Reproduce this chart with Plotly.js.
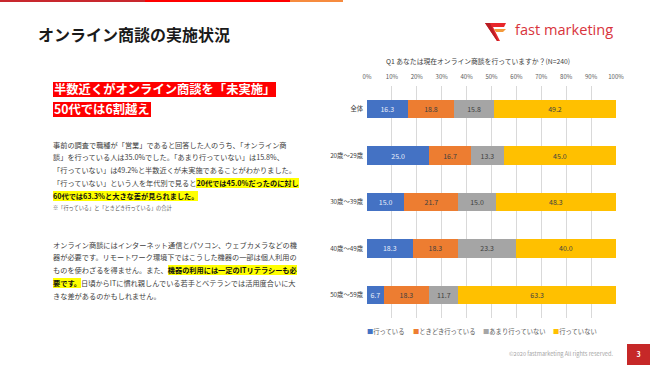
<!DOCTYPE html>
<html>
<head>
<meta charset="utf-8">
<script src="https://cdn.plot.ly/plotly-3.0.1.min.js"></script>
<style>
  html, body { margin:0; padding:0; background:#fff; }
  #page { position:relative; width:650px; height:365px; overflow:hidden; font-family:"Noto Sans CJK JP","Noto Sans",sans-serif; }
  #chart { position:absolute; left:0; top:0; width:650px; height:365px; }
  .abs { position:absolute; white-space:nowrap; }
  .strip { position:absolute; top:0; height:2px; }
  .hl { background:#ffff00; font-weight:bold; color:#111; }
  .para { font-size:7.2px; line-height:12.8px; color:#404040; }
  .head { background:#ff0000; color:#fff; font-weight:bold; font-size:12.3px; line-height:15px; padding:0 1px; }
</style>
</head>
<body>
<div id="page">
  <div id="chart"></div>
  <div class="strip" style="left:0;width:145px;background:#c8282e"></div>
  <div class="strip" style="left:145px;width:145px;background:#ff0000"></div>
  <div class="strip" style="left:290px;width:53px;background:#f68b3f"></div>

  <div class="abs" style="left:38px;top:24px;font-size:16px;line-height:20px;font-weight:bold;color:#1a1a1a">オンライン商談の実施状況</div>

  <svg class="abs" style="left:0;top:0" width="650" height="60">
    <polygon points="485,23 506,23 504,27 493,27 500,41 497,41" fill="#e8262b"/>
    <polygon points="485,23 490,23 498,41 497,41" fill="#b81e24"/>
    <polygon points="494,29 506,29 503,32 496,32" fill="#f39a3c"/>
  </svg>
  <div class="abs" style="left:515px;top:20px;font-family:'Open Sans',sans-serif;font-size:14.6px;line-height:19px;color:#d8343c">fast marketing</div>

  <div class="abs head" style="left:53px;top:82px">半数近くがオンライン商談を「未実施」</div>
  <div class="abs head" style="left:53px;top:102px">50代では6割越え</div>

  <div class="abs para" style="left:53px;top:138.6px">事前の調査で職種が「営業」であると回答した人のうち、「オンライン商<br>談」を行っている人は35.0%でした。「あまり行っていない」は15.8%、<br>「行っていない」は49.2%と半数近くが未実施であることがわかりました。<br>「行っていない」という人を年代別で見ると<span class="hl">20代では45.0%だったのに対し</span><br><span class="hl">60代では63.3%と大きな差が見られました。</span></div>
  <div class="abs" style="left:53px;top:205px;font-size:5.2px;line-height:6px;color:#595959">※「行っている」と「ときどき行っている」の合計</div>

  <div class="abs para" style="left:53px;top:238.6px">オンライン商談にはインターネット通信とパソコン、ウェブカメラなどの機<br>器が必要です。リモートワーク環境下ではこうした機器の一部は個人利用の<br>ものを使わざるを得ません。また、<span class="hl">機器の利用には一定のITリテラシーも必</span><br><span class="hl">要です。</span>日頃からITに慣れ親しんでいる若手とベテランでは活用度合いに大<br>きな差があるのかもしれません。</div>

  <div class="abs" style="right:37px;top:351px;font-size:5.6px;line-height:7px;color:#a6a6a6">©2020 fastmarketing All rights reserved.</div>
  <div class="abs" style="left:627px;top:344px;width:23px;height:21px;background:#c62828;color:#fff;font-size:7px;line-height:21px;text-align:center;font-weight:bold">3</div>
</div>
<script>
const categories = ['全体', '20歳～29歳', '30歳～39歳', '40歳～49歳', '50歳～59歳'];
const seriesNames = ['行っている', 'ときどき行っている', 'あまり行っていない', '行っていない'];
const doing = [16.3, 25.0, 15.0, 18.3, 6.7];
const sometimes = [18.8, 16.7, 21.7, 18.3, 18.3];
const rarely = [15.8, 13.3, 15.0, 23.3, 11.7];
const notDoing = [49.2, 45.0, 48.3, 40.0, 63.3];
const tickValues = [0, 10, 20, 30, 40, 50, 60, 70, 80, 90, 100];
const chartTitle = 'Q1 あなたは現在オンライン商談を行っていますか？(N=240)';

const seriesValues = [doing, sometimes, rarely, notDoing];
const colors = ['#4472c4', '#ed7d31', '#a5a5a5', '#ffc000'];
const labelColors = ['#e8eefa', '#404040', '#404040', '#404040'];
const legendX = [365, 411, 481, 551];

const W = 650, H = 365;
const m = {l: 367, r: 34, t: 86, b: 47};
const pxToPaperX = px => (px - m.l) / (W - m.l - m.r);
const pxToPaperY = py => 1 - (py - m.t) / (H - m.t - m.b);

const traces = seriesValues.map((vals, i) => ({
  type: 'bar',
  orientation: 'h',
  name: seriesNames[i],
  x: vals,
  y: categories,
  marker: {color: colors[i], line: {width: 0}},
  text: vals.map(v => v.toFixed(1)),
  textposition: 'inside',
  insidetextanchor: 'middle',
  textfont: {size: 7, color: labelColors[i], family: 'Noto Sans CJK JP, sans-serif'},
  hoverinfo: 'skip',
  showlegend: false
}));

const annotations = seriesNames.map((n, i) => ({
  xref: 'paper', yref: 'paper',
  x: pxToPaperX(legendX[i]), y: pxToPaperY(331),
  xanchor: 'left', yanchor: 'middle',
  showarrow: false,
  text: '<span style="color:' + colors[i] + '">■</span>' + n,
  font: {size: 6.3, color: '#595959', family: 'Noto Sans CJK JP, sans-serif'}
}));

const layout = {
  width: W, height: H,
  margin: m,
  paper_bgcolor: 'rgba(0,0,0,0)',
  plot_bgcolor: 'rgba(0,0,0,0)',
  barmode: 'stack',
  bargap: 0.605,
  font: {family: 'Noto Sans CJK JP, sans-serif', color: '#595959'},
  title: {
    text: chartTitle,
    font: {size: 6.8, color: '#404040'},
    xref: 'container', yref: 'container',
    x: 478 / W, y: 1 - 62 / H, xanchor: 'center', yanchor: 'middle'
  },
  xaxis: {
    side: 'top',
    range: [0, 100],
    tickvals: tickValues,
    ticktext: tickValues.map(v => v + '%'),
    showgrid: true, gridcolor: '#d9d9d9', gridwidth: 1,
    zeroline: false, showline: false, ticks: '',
    tickfont: {size: 6, color: '#595959'},
    ticklabelstandoff: 5,
    fixedrange: true
  },
  yaxis: {
    type: 'category',
    autorange: 'reversed',
    showgrid: false, zeroline: false, showline: false, ticks: '',
    tickfont: {size: 6.3, color: '#404040'},
    ticklabelstandoff: 3,
    fixedrange: true
  },
  annotations: annotations,
  showlegend: false
};

Plotly.newPlot('chart', traces, layout, {staticPlot: true, displayModeBar: false});
</script>
</body>
</html>
